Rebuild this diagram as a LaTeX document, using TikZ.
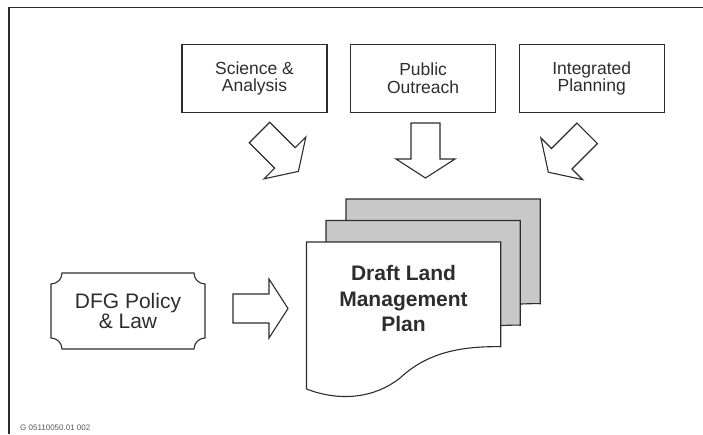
\documentclass[tikz,border=0pt]{standalone}
\usepackage{fontspec}
\setmainfont{Liberation Sans}
\usepackage{xcolor}
\usetikzlibrary{positioning,calc}

\definecolor{inkgray}{RGB}{45,45,45}
\definecolor{pagegray}{RGB}{200,200,200}

\tikzset{
  inputbox/.style={draw=inkgray, line width=1.1pt, minimum width=145pt, minimum height=68pt,
    align=center, text=inkgray, font=\fontsize{17.5}{17.3}\selectfont},
  outline/.style={draw=inkgray, line width=1.1pt, line join=miter},
  bigarrow/.pic={
    \draw[outline, fill=white] (0,-14.5) -- (36,-14.5) -- (36,-29.5) -- (55,0)
      -- (36,29.5) -- (36,14.5) -- (0,14.5) -- cycle;
  }
}

\begin{document}
\begin{tikzpicture}[x=1pt, y=-1pt]
    \useasboundingbox (0,0) rectangle (703,434);
    \draw[line width=1.2pt, inkgray] (9,434) -- (9,7.3) -- (703,7.3);

    % inputs along the top
    \node[inputbox] (science) at (254.5,78.3) {Science \&\\Analysis};
    \node[inputbox, right=22.5pt of science] (outreach) {Public\\Outreach};
    \node[inputbox, right=22.5pt of outreach] (planning) {Integrated\\Planning};

    \pic[rotate=-45] at (259.5,132.5) {bigarrow};
    \pic[rotate=-90] at (425.5,123) {bigarrow};
    \pic[rotate=-135] at (587.2,133.3) {bigarrow};

    % stacked pages
    \foreach \dx/\dy in {39.5/-43, 19.5/-21.5}
        \draw[outline, fill=pagegray, shift={(\dx,\dy)}] (306.5,242) -- (500.7,242) -- (500.7,346.7)
            .. controls (455,346) and (425,355) .. (400,378)
            .. controls (375,398) and (340,402) .. (306.5,389) -- cycle;
    \draw[outline, fill=white] (306.5,242) -- (500.7,242) -- (500.7,346.7)
        .. controls (455,346) and (425,355) .. (400,378)
        .. controls (375,398) and (340,402) .. (306.5,389) -- cycle;
    \node[align=center, text=inkgray, font=\fontsize{21}{25.5}\selectfont\bfseries] (plan) at (403.5,298.5)
        {Draft Land\\Management\\Plan};

    % policy plaque
    \draw[outline] (62,273) -- (194,273) .. controls (194,279) and (199,284) .. (205,284)
        -- (205,338) .. controls (199,338) and (194,343) .. (194,349)
        -- (62,349) .. controls (62,343) and (57,338) .. (51,338)
        -- (51,284) .. controls (57,284) and (62,279) .. (62,273) -- cycle;
    \node[align=center, text=inkgray, font=\fontsize{21}{20}\selectfont] (policy) at (128,311)
        {DFG Policy\\\& Law};
    \pic at (233,308.5) {bigarrow};

    \node[anchor=base west, inner sep=0pt, text=black!65, font=\fontsize{8}{9}\selectfont] (code) at (20,430.5)
        {G 05110050.01 002};
\end{tikzpicture}
\end{document}
